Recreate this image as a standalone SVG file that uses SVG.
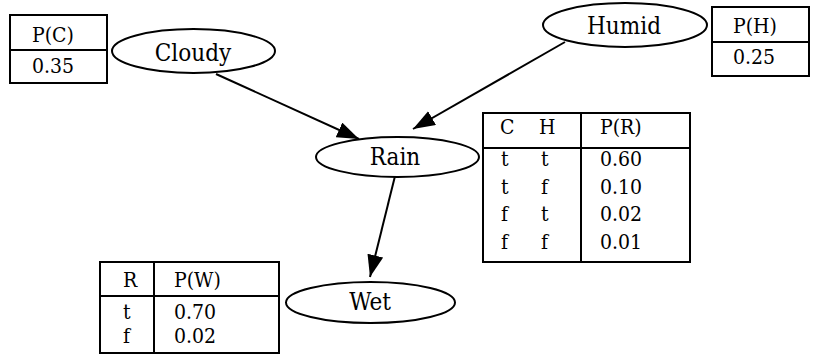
<svg xmlns="http://www.w3.org/2000/svg" width="813" height="354" viewBox="0 0 813 354">
<style>
.bg{fill:#fff}
.node{fill:#fff;stroke:#000;stroke-width:2}
.lbl{font-family:'DejaVu Serif Condensed','DejaVu Serif',serif;font-stretch:condensed;font-size:24px;fill:#000;text-anchor:middle}
.tbl{fill:#fff;stroke:#000;stroke-width:2}
.div{stroke:#000;stroke-width:2;fill:none}
.t{font-family:'DejaVu Serif Condensed','DejaVu Serif',serif;font-stretch:condensed;font-size:21px;fill:#000}
.edge{stroke:#000;stroke-width:2;fill:none;marker-end:url(#ah)}
</style>
<defs>
<marker id="ah" markerUnits="userSpaceOnUse" markerWidth="22" markerHeight="16" refX="22" refY="8" orient="auto">
<path d="M0,0 L22,8 L0,16 Z" fill="#000"/>
</marker>
</defs>
<rect class="bg" x="0" y="0" width="813" height="354"/>
<g id="connectors">
<line class="edge" x1="216" y1="74" x2="359" y2="139"/>
<line class="edge" x1="565" y1="42" x2="413" y2="129"/>
<line class="edge" x1="395" y1="176" x2="370" y2="277"/>
</g>
<g id="cloudy">
<ellipse class="node" cx="193.5" cy="51" rx="81.5" ry="22"/>
<text class="lbl" x="193" y="61">Cloudy</text>
</g>
<g id="humid">
<ellipse class="node" cx="625" cy="25" rx="82" ry="22"/>
<text class="lbl" x="624" y="34">Humid</text>
</g>
<g id="rain">
<ellipse class="node" cx="397.5" cy="157" rx="81.5" ry="20"/>
<text class="lbl" x="395" y="165">Rain</text>
</g>
<g id="wet">
<ellipse class="node" cx="370.5" cy="302.5" rx="84.5" ry="20.5"/>
<text class="lbl" x="370" y="310">Wet</text>
</g>
<g id="table-pc">
<rect class="tbl" x="10" y="15" width="97" height="68"/>
<line class="div" x1="10" y1="50" x2="107" y2="50"/>
<text class="t" x="32" y="42">P(C)</text>
<text class="t" x="32" y="73">0.35</text>
</g>
<g id="table-ph">
<rect class="tbl" x="712" y="7" width="97" height="69"/>
<line class="div" x1="712" y1="42" x2="809" y2="42"/>
<text class="t" x="733" y="33">P(H)</text>
<text class="t" x="733" y="64">0.25</text>
</g>
<g id="table-pr">
<rect class="tbl" x="483" y="113" width="207" height="149"/>
<line class="div" x1="483" y1="148" x2="690" y2="148"/>
<line class="div" x1="581" y1="113" x2="581" y2="262"/>
<text class="t" x="500" y="134">C</text>
<text class="t" x="539" y="134">H</text>
<text class="t" x="600" y="134">P(R)</text>
<text class="t" x="501" y="166">t</text><text class="t" x="541" y="166">t</text><text class="t" x="600" y="166">0.60</text>
<text class="t" x="501" y="194">t</text><text class="t" x="541" y="194">f</text><text class="t" x="600" y="194">0.10</text>
<text class="t" x="501" y="221">f</text><text class="t" x="541" y="221">t</text><text class="t" x="600" y="221">0.02</text>
<text class="t" x="501" y="249">f</text><text class="t" x="541" y="249">f</text><text class="t" x="600" y="249">0.01</text>
</g>
<g id="table-pw">
<rect class="tbl" x="100" y="262" width="179" height="91"/>
<line class="div" x1="100" y1="296" x2="279" y2="296"/>
<line class="div" x1="154" y1="262" x2="154" y2="353"/>
<text class="t" x="123" y="287">R</text>
<text class="t" x="174" y="287">P(W)</text>
<text class="t" x="123" y="319">t</text><text class="t" x="174" y="319">0.70</text>
<text class="t" x="123" y="343">f</text><text class="t" x="174" y="343">0.02</text>
</g>
</svg>
